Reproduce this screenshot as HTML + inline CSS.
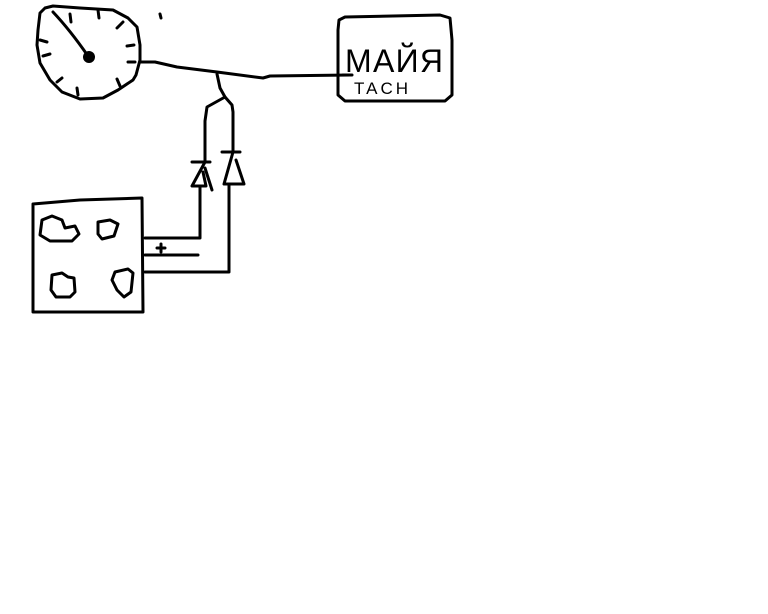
<!DOCTYPE html>
<html><head><style>
html,body{margin:0;padding:0;background:#fff;width:768px;height:614px;overflow:hidden}
svg{display:block}
</style></head><body>
<svg width="768" height="614" viewBox="0 0 768 614" xmlns="http://www.w3.org/2000/svg">
<g fill="none" stroke="#000" stroke-width="3" stroke-linecap="round" stroke-linejoin="round">
<!-- gauge -->
<path d="M40,13 L45,8 L53,6 L80,8 L113,10 L128,18 L137,27 L140,45 L140,60 L136,75 L133,80 L118,90 L103,98 L80,99 L62,92 L50,80 L40,63 L37,45 L38,30 Z"/>
<path d="M53,12 Q70,30 88,56"/>
<path d="M70,14 L71,22 M98,10 L99,18 M123,22 L117,28 M134,45 L127,46 M135,62 L128,62 M120,86 L117,79 M78,95 L77,88 M57,82 L62,78 M43,56 L50,54 M40,40 L47,42"/>
<path d="M160,14 L161,18"/>
<!-- wire -->
<path d="M140,62 L155,62 L177,67 L217,72 L263,78 L270,76 L350,75"/>
<path d="M217,74 L220,88 L225,97 L207,107 L205,121 L205,162"/>
<path d="M225,97 L232,105 L233,112 L233,152"/>
<!-- diodes -->
<path d="M192,162 L210,162 M205,162 L192,186 L206,186 L203,172 M205,168 L212,190"/>
<path d="M222,152 L240,152 M233,152 L224,184 L244,184 L236,160"/>
<path d="M200,186 L200,238 L145,238"/>
<path d="M229,184 L229,272 L145,272"/>
<path d="M145,255 L198,255 M157,248 L165,248 M161,244 L161,252"/>
<!-- left box -->
<path d="M33,204 L80,200 L142,198 L143,312 L33,312 Z"/>
<path d="M42,220 L52,216 L62,220 L65,228 L75,226 L79,234 L72,241 L50,241 L40,235 Z"/>
<path d="M98,222 L110,220 L118,224 L114,236 L102,239 L98,234 Z"/>
<path d="M52,275 L62,273 L68,277 L74,278 L75,292 L70,297 L56,297 L51,290 Z"/>
<path d="M115,272 L128,269 L133,273 L131,292 L124,297 L117,290 L112,280 Z"/>
<!-- right box -->
<path d="M339,20 L345,17 L440,15 L450,18 L452,40 L452,95 L445,101 L345,101 L338,95 L338,30 Z"/>
<path d="M343,75 L352,75"/>
</g>
<circle cx="89" cy="57" r="6" fill="#000"/>
<text x="345" y="72" font-family="Liberation Sans, sans-serif" font-size="32" fill="#000" textLength="98">МАЙЯ</text>
<text x="354" y="94" font-family="Liberation Sans, sans-serif" font-size="17" fill="#000" letter-spacing="3">TACH</text>
</svg>
</body></html>
